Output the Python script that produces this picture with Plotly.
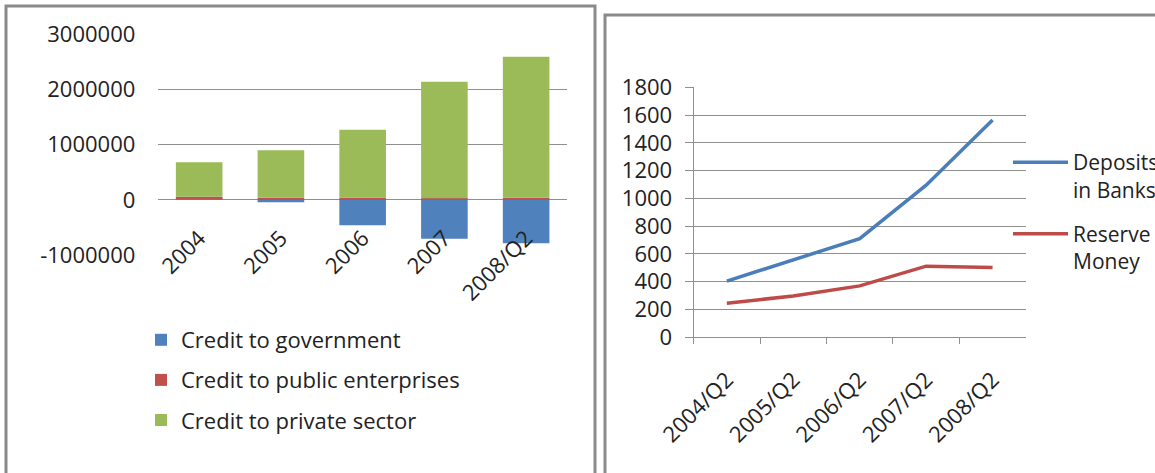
import plotly.graph_objects as go

W, H = 1155, 473

# Left panel: credit by sector (stacked, negatives below zero)
years = ["2004", "2005", "2006", "2007", "2008/Q2"]
credit_government = [30000, -40000, -457000, -699000, -783000]
credit_public = [30000, 40000, 40000, 30000, 40000]
credit_private = [621000, 858000, 1230000, 2108000, 2550000]
left_ticks = [-1000000, 0, 1000000, 2000000, 3000000]

# Right panel: deposits and reserve money
quarters = ["2004/Q2", "2005/Q2", "2006/Q2", "2007/Q2", "2008/Q2"]
deposits = [405, 555, 710, 1095, 1565]
reserve_money = [245, 298, 370, 512, 502]
right_ticks = [0, 200, 400, 600, 800, 1000, 1200, 1400, 1600, 1800]

FONT = "Open Sans"
TEXT = "#222222"
GRID = "#8f8f8f"
BORDER = "#8a8a8a"
FS = 22


def fx(p):
    return p / W


def fy(p):
    return 1 - p / H


fig = go.Figure()

bar_series = [
    ("Credit to government", credit_government, "#4F81BD"),
    ("Credit to public enterprises", credit_public, "#C0504D"),
    ("Credit to private sector", credit_private, "#9BBB59"),
]
for i, (name, vals, col) in enumerate(bar_series):
    fig.add_trace(go.Bar(
        x=years, y=vals, name=name, marker_color=col,
        marker_line_width=0, xaxis="x", yaxis="y",
        legend="legend", legendgroup=f"b{i}",
    ))

line_series = [
    ("Deposits<br>in Banks", deposits, "#4A7EBB"),
    ("Reserve<br>Money", reserve_money, "#BE4B48"),
]
for i, (name, vals, col) in enumerate(line_series):
    fig.add_trace(go.Scatter(
        x=quarters, y=vals, name=name, mode="lines",
        line=dict(color=col, width=3.5),
        xaxis="x2", yaxis="y2", legend="legend2", legendgroup=f"l{i}",
    ))

fig.update_layout(
    width=W, height=H,
    margin=dict(l=0, r=0, t=0, b=0, autoexpand=False),
    paper_bgcolor="white", plot_bgcolor="white",
    font=dict(family=FONT, size=FS, color=TEXT),
    barmode="relative", bargap=0.43,
    xaxis=dict(
        domain=[fx(158.3), fx(567)], type="category",
        anchor="free", position=fy(200), automargin=False,
        showgrid=False, showline=False, zeroline=False,
        ticks="", tickangle=-45, ticklabelstandoff=20,
    ),
    yaxis=dict(
        domain=[fy(255.3), fy(34)], range=[-1000000, 3000000],
        tickvals=left_ticks, ticktext=[str(v) for v in left_ticks],
        showgrid=True, gridcolor=GRID, gridwidth=1, automargin=False,
        zeroline=False, showline=False, ticks="",
        ticklabelstandoff=22,
    ),
    xaxis2=dict(
        domain=[fx(693.6), fx(1025.8)], type="category",
        anchor="y2", range=[-0.5, 4.5], automargin=False,
        showgrid=False, zeroline=False,
        showline=True, linecolor=GRID, linewidth=1,
        ticks="outside", ticklen=6, tickcolor=GRID, tickson="boundaries",
        tickangle=-45, ticklabelstandoff=20,
    ),
    yaxis2=dict(
        domain=[fy(337.3), fy(87.3)], range=[0, 1800],
        anchor="x2", tickvals=right_ticks, automargin=False,
        showgrid=True, gridcolor=GRID, gridwidth=1,
        zeroline=False, showline=True, linecolor=GRID, linewidth=1,
        ticks="outside", ticklen=8, tickcolor=GRID,
        ticklabelstandoff=8,
    ),
    legend=dict(
        x=fx(141), y=fy(319), xanchor="left", yanchor="top",
        bgcolor="rgba(0,0,0,0)", traceorder="grouped",
        tracegroupgap=8.5, font=dict(size=FS),
    ),
    legend2=dict(
        x=fx(1008), y=fy(142), xanchor="left", yanchor="top",
        bgcolor="rgba(0,0,0,0)", traceorder="grouped", valign="top",
        tracegroupgap=14, itemwidth=55, font=dict(size=21),
    ),
    shapes=[
        dict(type="rect", xref="paper", yref="paper",
             x0=fx(6), x1=fx(595), y0=-0.2, y1=fy(6),
             line=dict(color=BORDER, width=3)),
        dict(type="rect", xref="paper", yref="paper",
             x0=fx(605), x1=1.2, y0=-0.2, y1=fy(15),
             line=dict(color=BORDER, width=3)),
    ],
)

fig.write_html("out.html")
